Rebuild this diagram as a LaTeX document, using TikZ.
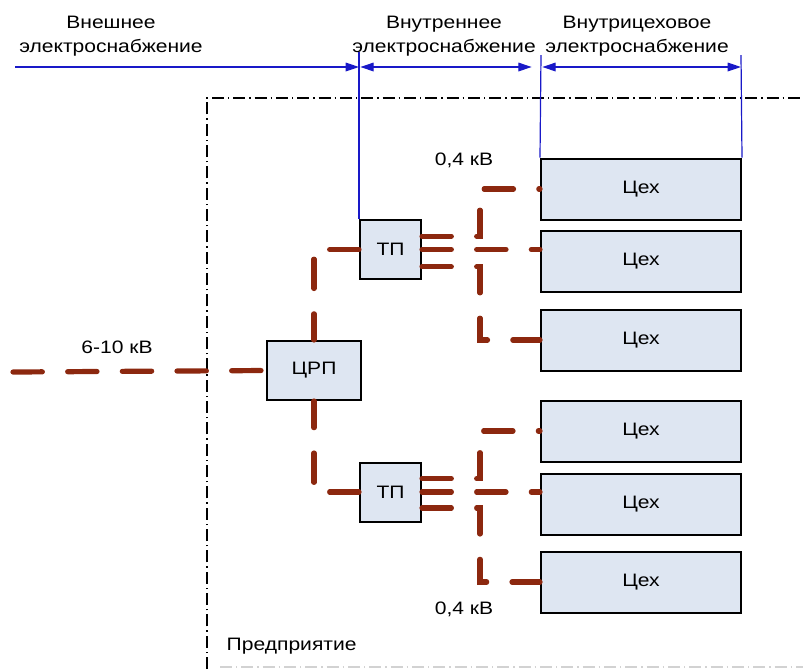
\documentclass[tikz,border=0pt]{standalone}
\usepackage{fontspec}
\setmainfont{Liberation Sans}[FakeStretch=1.17]
\usetikzlibrary{arrows.meta}
\definecolor{cablered}{RGB}{140,40,15}
\definecolor{boxfill}{RGB}{222,230,242}
\definecolor{dimblue}{RGB}{25,25,200}
\begin{document}
\begin{tikzpicture}[x=0.75pt,y=-0.75pt,
    every node/.style={font=\fontsize{13.5}{16}\selectfont},
    station/.style={draw,fill=boxfill,line width=1.5pt,inner sep=0pt},
    shop/.style={station,minimum width=150pt,minimum height=45.75pt},
    cable/.style={draw=cablered,line width=3.9pt,line cap=round,dash pattern=on 22pt off 19pt},
    dim/.style={dimblue,line width=0.9pt},
    enc/.style={line width=0.9pt,dash pattern=on 9pt off 3pt on 1pt off 3pt},
    title/.style={align=center,font=\fontsize{13.5}{18}\selectfont},
    >={Triangle[length=10pt,width=6.5pt]}]
    \useasboundingbox (0,0) rectangle (803,669);
    \draw[enc] (207,669) -- (207,98) -- (803,98);
    \draw[enc,gray!35] (220,667) -- (803,667);
    \node [station,minimum width=70.5pt,minimum height=44.25pt] (crp) at (314,370.5) {ЦРП};
    \node [station,minimum width=45.75pt,minimum height=44.25pt] (tp1) at (390.5,249.5) {ТП};
    \node [station,minimum width=45.75pt,minimum height=44.25pt] (tp2) at (390.5,492) {ТП};
    \node [shop] (s1) at (641,189) {Цех};
    \node [shop] (s2) at (641,261.5) {Цех};
    \node [shop] (s3) at (641,340) {Цех};
    \node [shop] (s4) at (641,431) {Цех};
    \node [shop] (s5) at (641,504) {Цех};
    \node [shop] (s6) at (641,582) {Цех};
    \coordinate (t1) at (359,52);
    \coordinate (t2) at (541,55);
    \coordinate (t3) at (741,55);
    \coordinate (a0) at (15,67);
    \draw[dim] (t1) -- (tp1.north west);
    \draw[dim] (t2) -- (s1.north west);
    \draw[dim] (t3) -- (s1.north east);
    \draw[dim,->] (a0) -- (t1 |- a0);
    \draw[dim,<->] ([xshift=1pt]t1 |- a0) -- ([xshift=-7pt]t2 |- a0);
    \draw[dim,<->] ([xshift=1pt]t2 |- a0) -- (t3 |- a0);
    \coordinate (feed) at (13,372);
    \coordinate (b1) at (480,249.5);
    \coordinate (b2) at (480,492);
    \draw[cable] (feed) -- (crp.west);
    \draw[cable] (tp1.west) -| (crp.north);
    \draw[cable] (tp2.west) -| (crp.south);
    \draw[cable] ([yshift=10pt]tp1.east) -| (b1 |- s1.west) -- (s1.west);
    \draw[cable] (tp1.east) -- (s2.west |- tp1.east);
    \draw[cable] ([yshift=-13pt]tp1.east) -| (b1 |- s3.west) -- (s3.west);
    \draw[cable] ([yshift=10pt]tp2.east) -| (b2 |- s4.west) -- (s4.west);
    \draw[cable] (tp2.east) -- (s5.west |- tp2.east);
    \draw[cable] ([yshift=-12pt]tp2.east) -| (b2 |- s6.west) -- (s6.west);
    \node [title] (ext) at (111,36) {Внешнее\\электроснабжение};
    \node [title] (int) at (444,36) {Внутреннее\\электроснабжение};
    \node [title] (ins) at (637,36) {Внутрицеховое\\электроснабжение};
    \node (hv) at (117,347) {6-10 кВ};
    \node (lv1) at (464,160) {0,4 кВ};
    \node (lv2) at (464,609) {0,4 кВ};
    \node [anchor=west] (ent) at (222,646) {Предприятие};
\end{tikzpicture}
\end{document}
